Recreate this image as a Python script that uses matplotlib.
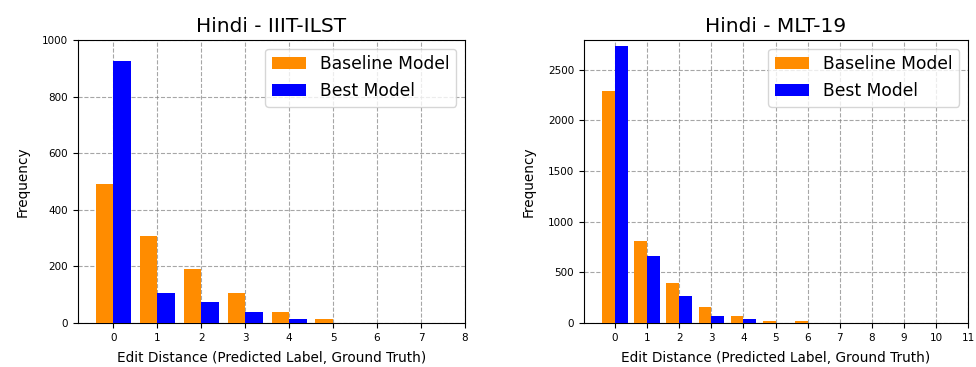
import numpy as np
import matplotlib
matplotlib.use("Agg")
import matplotlib.pyplot as plt

# Hindi - IIIT-ILST
ilst_dist = [0, 1, 2, 3, 4, 5]
ilst_baseline = [490, 308, 191, 105, 38, 14]
ilst_best = [927, 105, 74, 38, 14, 0]

# Hindi - MLT-19
mlt_dist = [0, 1, 2, 3, 4, 5, 6]
mlt_baseline = [2288, 812, 396, 159, 73, 20, 20]
mlt_best = [2734, 657, 264, 73, 40, 0, 0]

PANELS = [
    ("Hindi - IIIT-ILST", ilst_dist, ilst_baseline, ilst_best, range(0, 9), (-0.8, 8), (0, 1000)),
    ("Hindi - MLT-19", mlt_dist, mlt_baseline, mlt_best, range(0, 12), (-0.97, 11), (0, 2795)),
]

fig = plt.figure(figsize=(9.76, 3.67), dpi=100)
boxes = [(78, 465), (584, 968)]
W, H = 976, 367

for (title, dist, base, best, ticks, xlim, ylim), (l, r) in zip(PANELS, boxes):
    ax = fig.add_axes([l / W, (H - 323) / H, (r - l) / W, (323 - 40) / H])
    x = np.array(dist)
    width = 0.4
    ax.bar(x - width / 2, base, width, color="darkorange", label="Baseline Model", zorder=3)
    ax.bar(x + width / 2, best, width, color="blue", label="Best Model", zorder=3)
    ax.set_xticks(list(ticks))
    ax.set_xlim(*xlim)
    ax.set_ylim(*ylim)
    ax.tick_params(labelsize=7.5)
    ax.set_title(title, fontsize=14.5)
    ax.set_xlabel("Edit Distance (Predicted Label, Ground Truth)", fontsize=9.8, labelpad=6)
    ax.set_ylabel("Frequency", fontsize=9.8, labelpad=9)
    ax.grid(True, linestyle="--", color="gray", alpha=0.7, linewidth=0.8, zorder=0)
    ax.legend(fontsize=12.3, loc="upper right")

fig.savefig("out.png", dpi=100)
